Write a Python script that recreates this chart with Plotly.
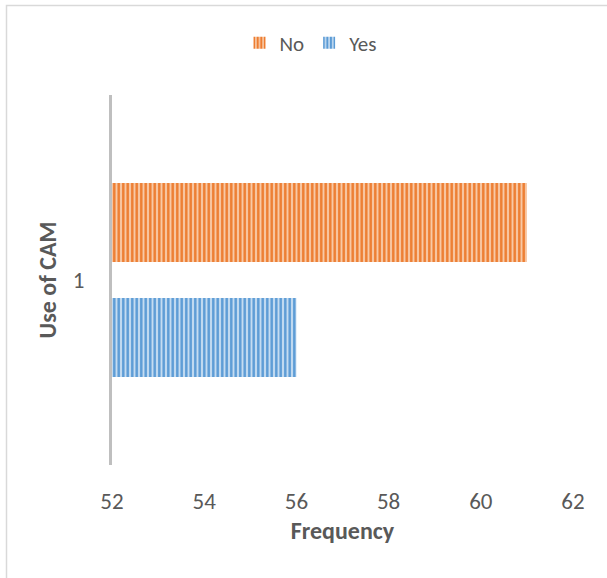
import plotly.graph_objects as go

categories = ["1"]
yes_values = [56]
no_values = [61]
x_ticks = [52, 54, 56, 58, 60, 62]

FONT = "Carlito, Calibri, Lato, 'Liberation Sans', sans-serif"
GRAY = "#595959"

fig = go.Figure()
fig.add_trace(go.Bar(
    y=categories, x=yes_values, name="Yes", orientation="h",
    marker=dict(color="#C5DCF1", line=dict(width=0),
                pattern=dict(shape="|", fgcolor="#5B9BD5", bgcolor="#C5DCF1",
                             size=4.5, solidity=0.55, fillmode="replace")),
))
fig.add_trace(go.Bar(
    y=categories, x=no_values, name="No", orientation="h",
    marker=dict(color="#F8C9A6", line=dict(width=0),
                pattern=dict(shape="|", fgcolor="#ED7D31", bgcolor="#F8C9A6",
                             size=4.5, solidity=0.55, fillmode="replace")),
))

L, R, T, B = 112, 34, 95, 113
W, H = 607, 578
pw, ph = W - L - R, H - T - B

def px_x(p):
    return (p - L) / pw

def px_y(p):
    return (H - B - p) / ph

fig.add_shape(type="rect", xref="paper", yref="paper",
              x0=px_x(6.5), x1=px_x(620), y0=px_y(600), y1=px_y(5.5),
              line=dict(color="#D9D9D9", width=1.5), fillcolor="rgba(0,0,0,0)", layer="below")

fig.update_layout(
    width=W, height=H,
    margin=dict(l=L, r=R, t=T, b=B, autoexpand=False),
    paper_bgcolor="white", plot_bgcolor="white",
    barmode="group", bargap=0.378, bargroupgap=0.313,
    font=dict(family=FONT, color=GRAY, size=23),
    legend=dict(orientation="h", x=px_x(311), xanchor="center", y=px_y(43), yanchor="middle",
                traceorder="reversed", font=dict(size=21, color=GRAY),
                itemwidth=30, bgcolor="rgba(0,0,0,0)"),
    xaxis=dict(range=[52, 62], tickvals=x_ticks, ticktext=[str(v) for v in x_ticks],
               showgrid=False, zeroline=False, showline=False, ticks="",
               ticklabelstandoff=20, tickfont=dict(size=23, color=GRAY),
               title=dict(text="<b>Frequency</b>", font=dict(size=24, color=GRAY), standoff=8)),
    yaxis=dict(type="category", range=[-0.5, 0.5], showgrid=False, zeroline=False,
               showline=True, linecolor="#BFBFBF", linewidth=3, ticks="",
               ticklabelstandoff=20, tickfont=dict(size=23, color=GRAY),
               title=dict(text="<b>Use of CAM</b>", font=dict(size=24, color=GRAY), standoff=10)),
)

fig.write_html("out.html", config={"displayModeBar": False},
               post_script="document.body.style.margin='0';document.body.style.overflow='hidden';")
